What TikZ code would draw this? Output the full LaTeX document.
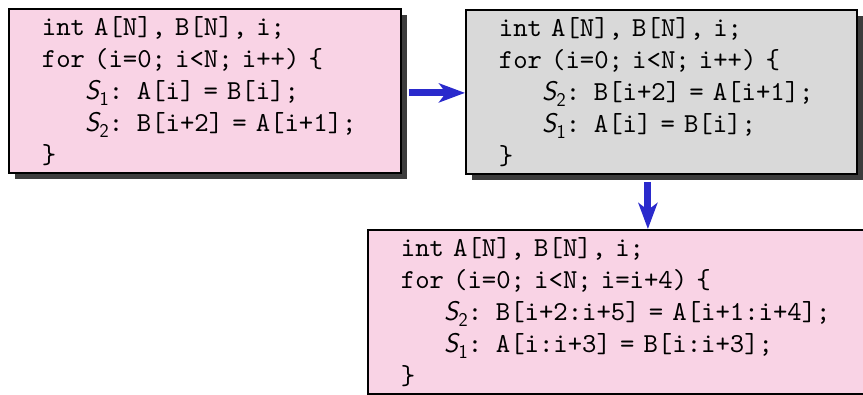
\documentclass[tikz,border=0pt]{standalone}
\usepackage{fontspec}
\setmonofont{lmmono10-regular}[Extension=.otf]
\usetikzlibrary{arrows.meta,shadows}
\definecolor{boxpink}{HTML}{F9D3E5}
\definecolor{boxgray}{HTML}{D9D9D9}
\definecolor{arrblue}{HTML}{2A2ACC}
\definecolor{shadowgray}{HTML}{3C3C3C}
\newcommand\Sn[1]{{\sffamily\itshape\fontsize{27}{27}\selectfont S}\kern0.5pt\raisebox{-0.22em}{\sffamily\fontsize{19.5}{19.5}\selectfont #1}}
\newcommand\ind{\phantom{xxx}}
\tikzset{
  codebox/.style={draw=black, line width=1.8pt, anchor=north west, minimum height=164pt,
    inner xsep=33pt, inner ysep=0pt, align=left,
    font=\ttfamily\fontsize{27.4}{32}\selectfont},
  shadowed/.style={drop shadow={shadow xshift=6pt, shadow yshift=-6pt, fill=shadowgray, opacity=1}},
  arr/.style={draw=arrblue, line width=7pt, -{Stealth[length=26pt,width=19pt,inset=7pt]}}
}
\begin{document}
\begin{tikzpicture}[x=1pt,y=1pt]
\useasboundingbox (0,0) rectangle (863,-395);
\node[codebox, shadowed, fill=boxpink, text width=326pt] (b1) at (8,-8)
 {int A[N], B[N], i;\\
  for (i=0; i<N; i++) \{\\
  \ind\Sn{1}: A[i] = B[i];\\
  \ind\Sn{2}: B[i+2] = A[i+1];\\
  \}};
\node[codebox, shadowed, fill=boxgray, text width=325pt] (b2) at (465,-9)
 {int A[N], B[N], i;\\
  for (i=0; i<N; i++) \{\\
  \ind\Sn{2}: B[i+2] = A[i+1];\\
  \ind\Sn{1}: A[i] = B[i];\\
  \}};
\node[codebox, fill=boxpink, text width=433pt] (b3) at (367,-229)
 {int A[N], B[N], i;\\
  for (i=0; i<N; i=i+4) \{\\
  \ind\Sn{2}: B[i+2:i+5] = A[i+1:i+4];\\
  \ind\Sn{1}: A[i:i+3] = B[i:i+3];\\
  \}};
\draw[arr] ([xshift=7pt,yshift=-2pt]b1.east) -- ([yshift=-1pt]b2.west);
\draw[arr] ([xshift=-13.5pt,yshift=-7pt]b2.south) -- ([xshift=-13.5pt]b2.south |- b3.north);
\end{tikzpicture}
\end{document}
